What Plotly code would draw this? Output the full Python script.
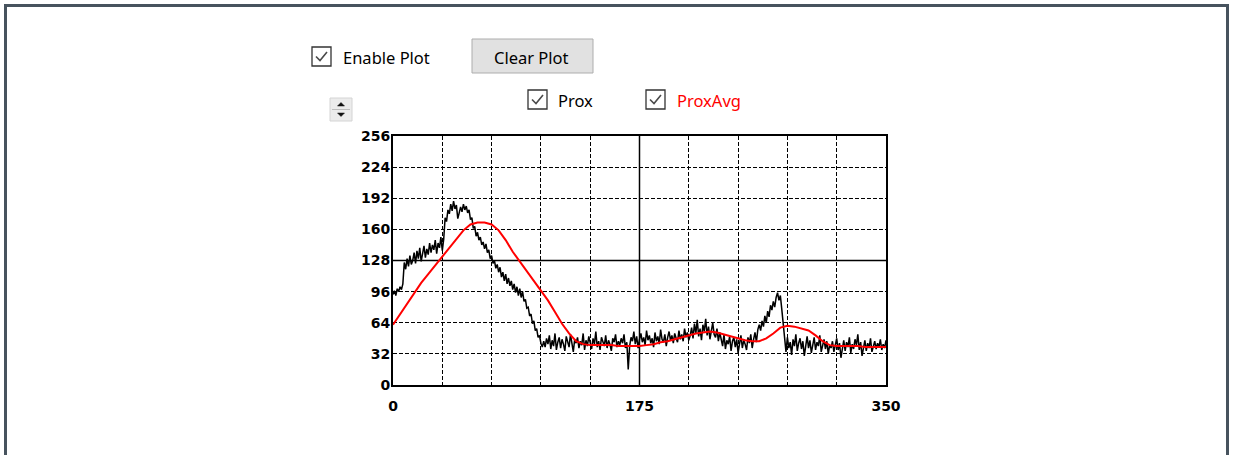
import plotly.graph_objects as go

# ---------------- data ----------------
PROX_X = list(range(0, 351))
PROX_A = [93, 97, 92, 99, 96, 101, 98, 104]                                   # x 0-7
PROX_B = [126, 119, 130, 122, 133, 124, 128, 136, 125, 138,
          130, 141, 127, 137, 143, 131, 140, 134, 146, 136,
          144, 139, 149, 135, 146, 141, 152, 138, 150]                        # x 8-36
PROX_C = [172, 168, 180, 176, 186, 179, 189, 181, 185, 171,
          177, 183, 178, 186, 180, 184, 177]                                  # x 37-53
PROX_D = [180, 170, 172, 161, 163, 153, 157, 149, 152, 144,
          147, 140, 145, 136, 139, 130, 133, 125, 128, 120,
          124, 116, 121, 111, 116, 107, 114, 104, 110, 102,
          107, 98, 104, 95, 101, 92, 99, 90, 96, 86,
          88, 79, 80, 71, 73, 63, 66, 56, 58, 49,
          51, 43, 39]                                                         # x 54-106
PROX_E = [45, 39, 48, 42, 51, 37, 46, 40, 53, 36,
          44, 49, 38, 47, 42, 35, 50, 44, 39, 52,
          41, 34, 47, 43, 49, 38, 45, 41, 53, 36,
          46, 40, 50, 44, 37, 48, 42, 55, 39, 45,
          36, 49, 43, 40, 51, 38, 46, 42, 35, 48,
          44, 52, 39, 45]                                                     # x 107-160
PROX_F = [41, 48, 43, 52, 38, 44, 16, 40, 49, 45,
          55, 42, 50, 38, 47, 53, 44, 49, 41, 56,
          46, 51, 43, 48, 39, 54, 45, 50, 42, 57,
          47, 44, 52, 40, 49, 55, 46, 51, 43, 53,
          48, 44, 56, 47, 52, 45, 58, 49, 54, 46]                             # x 161-210
PROX_G = [51, 59, 48, 63, 53, 67, 50, 58, 46, 62,
          55, 68, 51, 60, 47, 57, 64, 52, 49, 58,
          45, 54]                                                             # x 211-232
PROX_H = [48, 40, 52, 37, 46, 42, 50, 35, 45, 49,
          39, 47, 33, 44, 51, 38, 46, 42, 36, 49,
          43, 52, 38, 47, 54, 44, 57]                                         # x 233-259
PROX_I = [62, 56, 66, 60, 71, 64, 76, 70, 82, 77,
          86, 80, 90, 95, 87, 92, 78, 62]                                     # x 260-277
PROX_J = [46, 34, 49, 38, 44, 31, 47, 40, 52, 35,
          43, 48, 37, 45, 30, 41, 50, 38, 46, 33,
          43, 49, 36, 44, 40, 51, 34, 42, 47, 37,
          45, 32, 41]                                                         # x 278-310
PROX_K = [38, 45, 34, 42, 48, 36, 43, 28, 40, 46,
          35, 44, 39, 49, 33, 42, 37, 47, 41, 52,
          36, 44, 30, 40, 46, 35, 43, 38, 48, 34,
          41, 45, 37, 43, 39, 47, 36, 42, 38, 46]                             # x 311-350
PROX = (PROX_A + PROX_B + PROX_C + PROX_D + PROX_E + PROX_F + PROX_G
        + PROX_H + PROX_I + PROX_J + PROX_K)

AVG_X = list(range(0, 351, 5))
PROX_AVG = [
    62, 73, 84, 95, 105, 114, 123, 131, 140, 150,
    159, 165, 167, 167, 165, 159, 149, 137, 127, 117,
    107, 97, 87, 75, 63, 53, 45, 42, 41, 41,
    41, 41, 40, 40, 40, 40, 41, 42, 44, 45,
    47, 49, 51, 53, 54, 55, 54, 52, 50, 48,
    46, 45, 45, 48, 53, 59, 61, 60, 58, 56,
    51, 45, 41, 40, 40, 40, 40, 39, 39, 39, 39,
]
X_TICKS = list(range(0, 351, 35))
X_LABELS = ["0", "", "", "", "", "175", "", "", "", "", "350"]
Y_TICKS = list(range(0, 257, 32))
Y_LABELS = [str(v) for v in Y_TICKS]
X_MID = 175
Y_MID = 128

assert len(PROX) == len(PROX_X), (len(PROX), len(PROX_X))
assert len(PROX_AVG) == len(AVG_X), (len(PROX_AVG), len(AVG_X))

# ---------------- geometry (pixels) ----------------
W, H = 1235, 455
PL, PR, PT, PB = 393, 886, 136, 385


def fx(px):
    return (px - PL) / (PR - PL)


def fy(py):
    return (PB - py) / (PB - PT)


fig = go.Figure()
fig.add_trace(go.Scatter(x=PROX_X, y=PROX, mode="lines", name="Prox",
                         line=dict(color="#000000", width=1.5)))
fig.add_trace(go.Scatter(x=AVG_X, y=PROX_AVG, mode="lines", name="ProxAvg",
                         line=dict(color="#ff0000", width=2)))

tickfont = dict(family="DejaVu Sans", size=14, color="#000000", weight="bold")
axis_common = dict(showgrid=True, gridcolor="#000000", gridwidth=1, griddash="4px,2px",
                   showline=True, mirror=True, linecolor="#000000", linewidth=2,
                   zeroline=False, ticks="", tickfont=tickfont, fixedrange=True)

fig.update_xaxes(range=[0, 350], tickmode="array", tickvals=X_TICKS, ticktext=X_LABELS,
                 ticklabelstandoff=7, **axis_common)
fig.update_yaxes(range=[0, 256], tickmode="array", tickvals=Y_TICKS, ticktext=Y_LABELS,
                 ticklabelstandoff=-2, **axis_common)

shapes = []
# solid centre lines
shapes.append(dict(type="line", xref="x", yref="paper", x0=X_MID, x1=X_MID, y0=0, y1=1,
                   line=dict(color="#000000", width=1.5), layer="below"))
shapes.append(dict(type="line", xref="paper", yref="y", x0=0, x1=1, y0=Y_MID, y1=Y_MID,
                   line=dict(color="#000000", width=1.5), layer="below"))


def prect(x0, y0, x1, y1, fill, line_color=None, lw=0):
    d = dict(type="rect", xref="paper", yref="paper",
             x0=fx(x0), x1=fx(x1), y0=fy(y1), y1=fy(y0), fillcolor=fill, layer="above")
    if line_color:
        d["line"] = dict(color=line_color, width=lw)
    else:
        d["line"] = dict(width=0)
    return d


def checkbox(x0, y0, s=19):
    out = [prect(x0, y0, x0 + s, y0 + s, "#ffffff", "#333333", 1.3)]
    pts = [(x0 + 4, y0 + 9.5), (x0 + 8, y0 + 13.5), (x0 + 15, y0 + 5)]
    path = "M {} {} L {} {} L {} {}".format(*(v for p in pts for v in (fx(p[0]), fy(p[1]))))
    out.append(dict(type="path", xref="paper", yref="paper", path=path,
                    line=dict(color="#4a4a4a", width=1.6), layer="above"))
    return out


# window frame
FRAME = "#47535e"
shapes.append(prect(4, 4, 7, H + 5, FRAME))
shapes.append(prect(4, 4, 1229, 7, FRAME))
shapes.append(prect(1226, 4, 1229, H + 5, FRAME))

# checkboxes
shapes += checkbox(312, 47)
shapes += checkbox(528, 90)
shapes += checkbox(646, 90)

# button
shapes.append(prect(472, 39, 593, 73, "#e1e1e1", "#adadad", 1))

# spinner
shapes.append(prect(330, 98, 352, 121, "#ececec", "#d4d4d4", 1))
shapes.append(dict(type="line", xref="paper", yref="paper", x0=fx(332), x1=fx(350),
                   y0=fy(109.5), y1=fy(109.5), line=dict(color="#bdbdbd", width=1), layer="above"))
up = "M {} {} L {} {} L {} {} Z".format(fx(337.5), fy(106), fx(344.5), fy(106), fx(341), fy(102.5))
dn = "M {} {} L {} {} L {} {} Z".format(fx(337.5), fy(113), fx(344.5), fy(113), fx(341), fy(116.5))
for p in (up, dn):
    shapes.append(dict(type="path", xref="paper", yref="paper", path=p,
                       fillcolor="#111111", line=dict(color="#111111", width=0.5), layer="above"))

ui_font = "Noto Sans"
ui_size = 16.5
annotations = [
    dict(text="Enable Plot", x=fx(341), y=fy(57), xanchor="left", yanchor="middle",
         font=dict(family=ui_font, size=ui_size, color="#000000")),
    dict(text="Clear Plot", x=fx(531), y=fy(57), xanchor="center", yanchor="middle",
         font=dict(family=ui_font, size=ui_size, color="#000000")),
    dict(text="Prox", x=fx(556), y=fy(100), xanchor="left", yanchor="middle",
         font=dict(family=ui_font, size=ui_size, color="#000000")),
    dict(text="ProxAvg", x=fx(675), y=fy(100), xanchor="left", yanchor="middle",
         font=dict(family=ui_font, size=ui_size, color="#ff0000")),
]
for a in annotations:
    a.update(xref="paper", yref="paper", showarrow=False)

fig.update_layout(
    width=W, height=H, autosize=False,
    margin=dict(l=PL, r=W - PR, t=PT, b=H - PB, pad=0),
    paper_bgcolor="#ffffff", plot_bgcolor="#ffffff",
    showlegend=False, shapes=shapes, annotations=annotations,
)

fig.write_html("out.html", config={"displayModeBar": False},
               post_script="document.body.style.margin='0';document.body.style.overflow='hidden';")
